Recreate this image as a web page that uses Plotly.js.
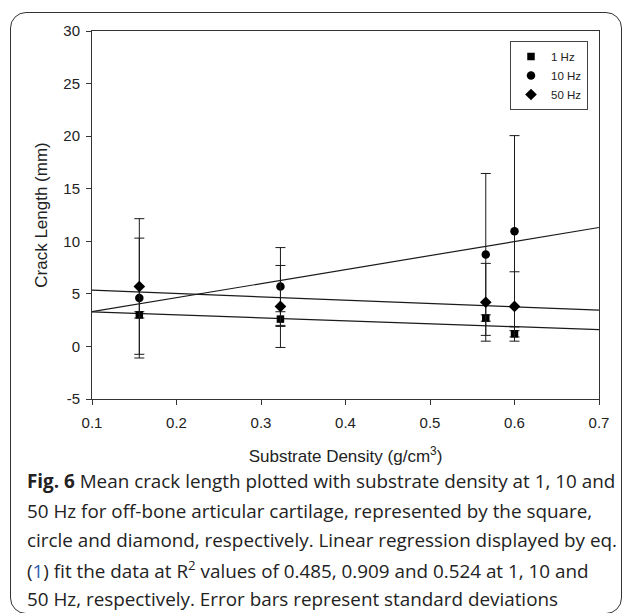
<!DOCTYPE html>
<html>
<head>
<meta charset="utf-8">
<script src="https://cdn.plot.ly/plotly-3.0.1.min.js"></script>
<style>
  html, body { margin: 0; padding: 0; background: #fff; }
  #wrap { position: relative; width: 627px; height: 613px; overflow: hidden; }
  #chart { position: absolute; left: 0; top: 0; width: 627px; height: 613px; }
  #frame { position: absolute; left: 10px; top: 12px; width: 612px; height: 602px;
           border: 1.5px solid #333; border-radius: 16px; pointer-events: none; box-sizing: border-box; }
</style>
</head>
<body>
<div id="wrap">
  <div id="chart"></div>
  <div id="frame"></div>
</div>
<script>
// Data
const density = [0.156, 0.323, 0.566, 0.600];
const len1Hz  = [3.0, 2.6, 2.7, 1.2];
const sd1Hz   = [0.3, 0.7, 0.3, 0.3];
const len10Hz = [4.6, 5.7, 8.75, 10.95];
const sd10Hz  = [5.7, 3.7, 7.7, 9.1];
const len50Hz = [5.7, 3.8, 4.2, 3.8];
const sd50Hz  = [6.45, 3.9, 3.7, 3.3];
const seriesNames = ['1 Hz', '10 Hz', '50 Hz'];
// Linear regression coefficients [intercept, slope]
const fit1Hz  = [3.57, -2.82];
const fit10Hz = [1.965, 13.35];
const fit50Hz = [5.666, -3.16];
const xRange = [0.1, 0.7];
const yRange = [-5, 30];
const yTickVals = [-5, 0, 5, 10, 15, 20, 25, 30];
const yTickText = ['-5', '0', '5', '10', '15', '20', '25', '30'];
const xTickVals = [0.1, 0.2, 0.3, 0.4, 0.5, 0.6, 0.7];
const xTickText = ['0.1', '0.2', '0.3', '0.4', '0.5', '0.6', '0.7'];

const ink = '#1a1a1a';
function fitLine(c) {
  return { x: xRange.slice(), y: xRange.map(v => c[0] + c[1] * v),
    mode: 'lines', line: { color: ink, width: 1.2 }, showlegend: false, hoverinfo: 'skip' };
}
function pts(y, sd, name, symbol, size) {
  return { x: density, y: y, name: name, mode: 'markers',
    marker: { symbol: symbol, size: size, color: '#000' },
    error_y: { type: 'data', array: sd, visible: true, color: ink, thickness: 1, width: 5 } };
}
const data = [
  fitLine(fit1Hz), fitLine(fit10Hz), fitLine(fit50Hz),
  pts(len1Hz, sd1Hz, seriesNames[0], 'square', 7.5),
  pts(len10Hz, sd10Hz, seriesNames[1], 'circle', 8.5),
  pts(len50Hz, sd50Hz, seriesNames[2], 'diamond', 9)
];

const L = 92, R = 28, T = 31, B = 214, W = 627, H = 613;
const pw = W - L - R, ph = H - T - B;
const px = v => (v - L) / pw;
const py = v => (H - B - v) / ph;

const capFont = { family: 'Open Sans, Noto Sans, sans-serif', size: 18.85, color: '#222' };
const capLines = [
  '<b>Fig. 6</b> Mean crack length plotted with substrate density at 1, 10 and',
  '50 Hz for off-bone articular cartilage, represented by the square,',
  'circle and diamond, respectively. Linear regression displayed by eq.',
  '(<span style="color:#2a5db0">1</span>) fit the data at R<sup>2</sup> values of 0.485, 0.909 and 0.524 at 1, 10 and',
  '50 Hz, respectively. Error bars represent standard deviations'
];
const capY = [481, 511, 540, 570, 599];
const annotations = capLines.map((t, i) => ({
  text: t, xref: 'paper', yref: 'paper', x: px(25), y: py(capY[i]),
  xanchor: 'left', yanchor: 'middle', showarrow: false, align: 'left', font: capFont
}));

const tickFont = { family: 'Liberation Sans, Arial, sans-serif', size: 15, color: '#222' };
const titleFont = { family: 'Liberation Sans, Arial, sans-serif', size: 17, color: '#222' };
const axisCommon = {
  showline: true, mirror: true, linecolor: '#333', linewidth: 1,
  ticks: 'outside', ticklen: 5, tickwidth: 1, tickcolor: '#333',
  showgrid: false, zeroline: false, tickfont: tickFont
};

const layout = {
  width: W, height: H,
  margin: { l: L, r: R, t: T, b: B },
  paper_bgcolor: '#fff', plot_bgcolor: '#fff',
  showlegend: true,
  legend: {
    x: px(510), y: py(41), xanchor: 'left', yanchor: 'top',
    bordercolor: '#444', borderwidth: 1, bgcolor: '#fff',
    font: { family: 'Liberation Sans, Arial, sans-serif', size: 11.5, color: '#222' },
    itemwidth: 30
  },
  xaxis: Object.assign({}, axisCommon, {
    range: xRange, tickmode: 'array', tickvals: xTickVals, ticktext: xTickText,
    ticklabelstandoff: 5,
    title: { text: 'Substrate Density (g/cm<sup>3</sup>)', standoff: 20, font: titleFont }
  }),
  yaxis: Object.assign({}, axisCommon, {
    range: yRange, tickmode: 'array', tickvals: yTickVals, ticktext: yTickText,
    ticklabelstandoff: 3,
    title: { text: 'Crack Length (mm)', standoff: 11, font: titleFont }
  }),
  annotations: annotations
};

Plotly.newPlot('chart', data, layout, { staticPlot: true, displayModeBar: false });
</script>
</body>
</html>
